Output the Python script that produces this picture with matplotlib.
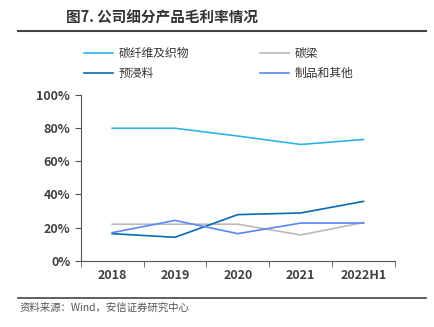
import numpy as np
from matplotlib import pyplot as plt
from matplotlib.lines import Line2D

plt.rcParams['font.family'] = ['Noto Sans CJK SC', 'DejaVu Sans']

# 数据：公司细分产品毛利率
years = ['2018', '2019', '2020', '2021', '2022H1']
fiber = [80.0, 80.0, 75.3, 70.2, 73.2]      # 碳纤维及织物
beam = [22.0, 22.0, 22.0, 15.5, 23.0]       # 碳梁
prepreg = [16.3, 14.1, 27.8, 28.8, 35.8]    # 预浸料
others = [16.9, 24.3, 16.3, 22.7, 22.7]     # 制品和其他

names = ['碳纤维及织物', '碳梁', '预浸料', '制品和其他']
colors = ['#2bb5e6', '#bdb7b7', '#0a6aad', '#5b86f5']
series = [fiber, beam, prepreg, others]

fig = plt.figure(figsize=(4.34, 3.27), dpi=100)
ax = fig.add_axes([0.186, 0.203, 0.724, 0.506])

x = np.arange(len(years))
for vals, c in zip(series, colors):
    ax.plot(x, vals, color=c, lw=1.2)

ax.set_xlim(-0.5, len(years) - 0.5)
ax.set_ylim(0, 100)
ax.set_yticks(np.arange(0, 101, 20))
ax.set_yticklabels([f'{v}%' for v in range(0, 101, 20)])
ax.set_xticks(x)
ax.set_xticklabels(years)
ax.set_xticks(np.arange(-0.5, len(years), 1), minor=True)
ax.tick_params(axis='x', which='major', length=0, pad=6)
ax.tick_params(axis='x', which='minor', length=4, color='#555555', direction='out')
ax.tick_params(axis='y', length=4, color='#555555', direction='out')
ax.tick_params(labelsize=9, labelcolor='#404040')
for lab in ax.get_xticklabels() + ax.get_yticklabels():
    lab.set_fontweight('bold')
ax.spines['top'].set_visible(False)
ax.spines['right'].set_visible(False)
ax.spines['left'].set_color('#555555')
ax.spines['bottom'].set_color('#555555')

# 图例（按列填充：第一列 碳纤维及织物/预浸料，第二列 碳梁/制品和其他）
order = [0, 2, 1, 3]
handles = [Line2D([], [], color=colors[i], lw=1.2) for i in order]
fig.legend(handles, [names[i] for i in order], ncol=2, frameon=False,
           loc='upper left', bbox_to_anchor=(0.168, 0.888), fontsize=8.5,
           handlelength=2.5, columnspacing=6.0, handletextpad=0.45,
           labelspacing=0.6, labelcolor='#333333')

# 标题与来源
fig.text(0.152, 0.945, '图7. 公司细分产品毛利率情况', fontsize=10.5, fontweight='bold',
         color='#333333', va='center')
fig.add_artist(Line2D([0.042, 0.982], [0.905, 0.905], color='#444444', lw=1.5))
fig.add_artist(Line2D([0.042, 0.982], [0.088, 0.088], color='#444444', lw=1.2))
fig.text(0.045, 0.058, '资料来源：Wind，安信证券研究中心', fontsize=7.5, color='#555555',
         style='italic', va='center')

fig.savefig('out.png', dpi=100)
